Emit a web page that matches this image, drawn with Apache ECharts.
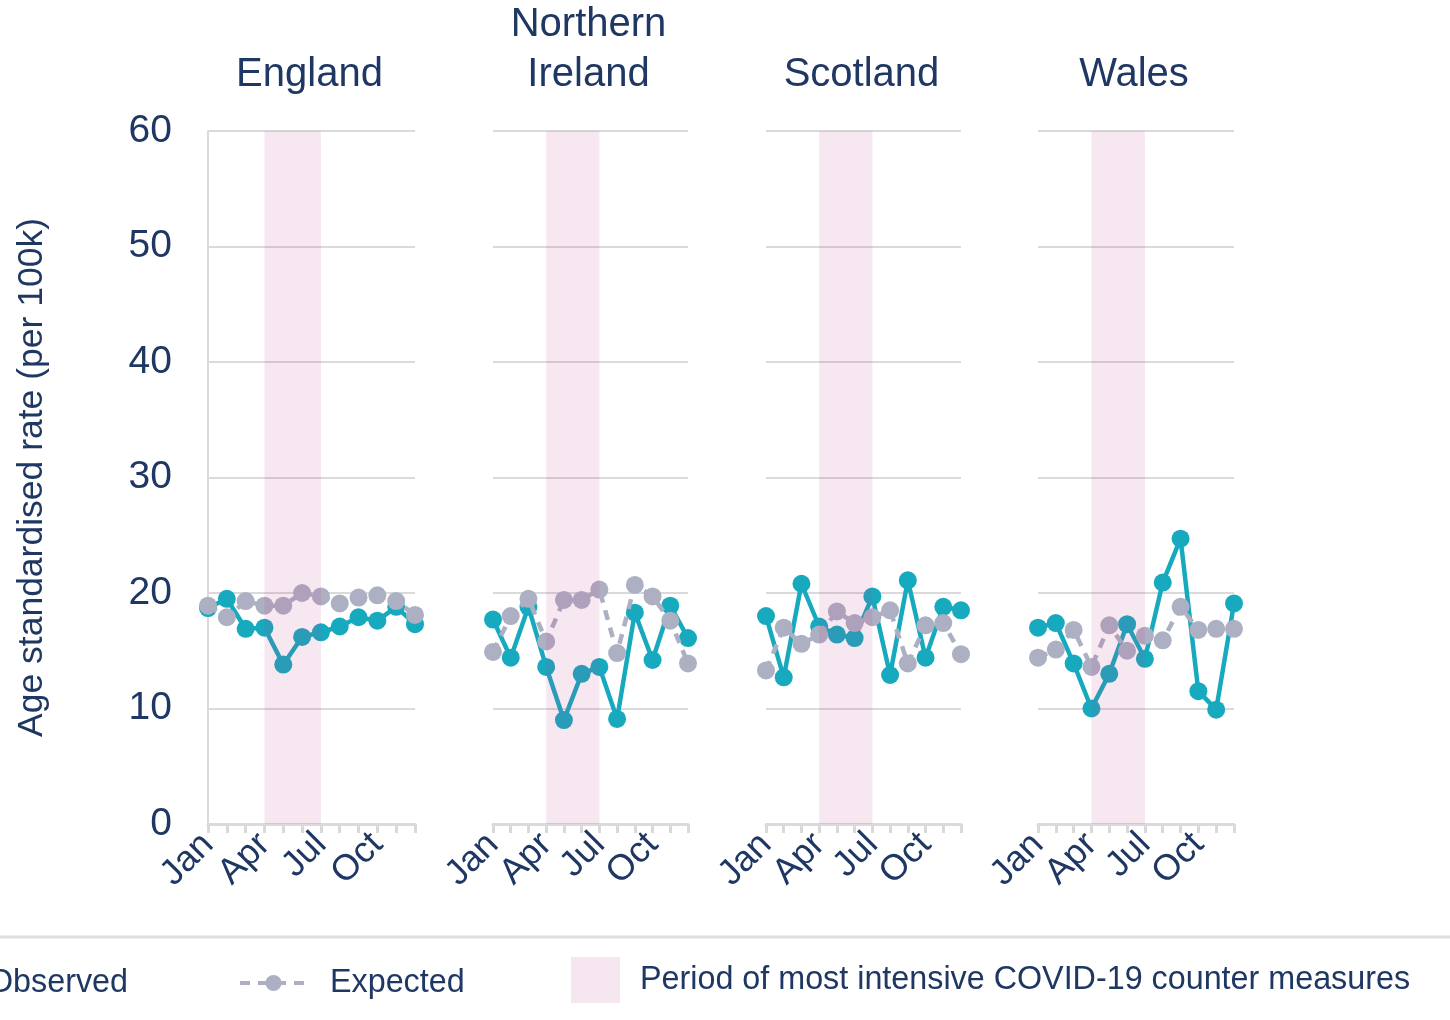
<!DOCTYPE html>
<html>
<head>
<meta charset="utf-8">
<script src="https://cdn.jsdelivr.net/npm/echarts@6/dist/echarts.min.js"></script>
<style>
  html, body { margin: 0; padding: 0; background: #fff; }
  #main { width: 1450px; height: 1020px; }
</style>
</head>
<body>
<div id="main"></div>
<script>
// 数据
var months = ['Jan', 'Feb', 'Mar', 'Apr', 'May', 'Jun', 'Jul', 'Aug', 'Sep', 'Oct', 'Nov', 'Dec'];
var nations = ['England', 'Northern\nIreland', 'Scotland', 'Wales'];
var englandObserved = [18.7, 19.5, 16.9, 17.0, 13.8, 16.2, 16.6, 17.1, 17.9, 17.6, 18.8, 17.3];
var englandExpected = [18.9, 17.9, 19.3, 18.9, 18.9, 20.0, 19.7, 19.1, 19.6, 19.8, 19.3, 18.1];
var niObserved = [17.7, 14.4, 18.8, 13.6, 9.0, 13.0, 13.6, 9.1, 18.3, 14.2, 18.9, 16.1];
var niExpected = [14.9, 18.0, 19.5, 15.8, 19.4, 19.4, 20.3, 14.8, 20.7, 19.7, 17.6, 13.9];
var scotlandObserved = [18.0, 12.7, 20.8, 17.1, 16.4, 16.1, 19.7, 12.9, 21.1, 14.4, 18.8, 18.5];
var scotlandExpected = [13.3, 17.0, 15.6, 16.4, 18.4, 17.4, 17.9, 18.5, 13.9, 17.2, 17.4, 14.7];
var walesObserved = [17.0, 17.4, 13.9, 10.0, 13.0, 17.3, 14.3, 20.9, 24.7, 11.5, 9.9, 19.1];
var walesExpected = [14.4, 15.1, 16.8, 13.6, 17.2, 15.0, 16.3, 15.9, 18.8, 16.8, 16.9, 16.9];
var observedSets = [englandObserved, niObserved, scotlandObserved, walesObserved];
var expectedSets = [englandExpected, niExpected, scotlandExpected, walesExpected];
var shadeFrom = 'Apr', shadeTo = 'Jul';
var yTicks = [0, 60, 10]; // min, max, interval
var periodName = 'Period of most intensive COVID-19 counter measures';

var chartDom = document.getElementById('main');
var myChart = echarts.init(chartDom, null, { renderer: 'canvas' });

// 颜色
var textColor = '#1f3763';
var teal = '#17aabf';
var grey = '#adb0c2';
var pink = '#f5e6f0';
var lineGrey = '#dadada';
var font = '"Liberation Sans", Arial, sans-serif';

// 每个面板的位置
var panels = [
    { left: 208, width: 207 },
    { left: 493, width: 195 },
    { left: 766, width: 195 },
    { left: 1038, width: 196 }
];

var grids = [], xAxes = [], yAxes = [], series = [], graphics = [];

panels.forEach(function (p, i) {
    grids.push({ left: p.left, width: p.width, top: 131, bottom: 196, containLabel: false });
    xAxes.push({
        type: 'category',
        gridIndex: i,
        data: months,
        boundaryGap: false,
        axisLine: { lineStyle: { color: lineGrey, width: 3 } },
        axisTick: { show: true, length: 9, interval: 0, lineStyle: { color: lineGrey, width: 3 } },
        axisLabel: {
            interval: 2,
            rotate: 45,
            margin: 15,
            color: textColor,
            fontSize: 36,
            fontFamily: font
        },
        splitLine: { show: false }
    });
    yAxes.push({
        type: 'value',
        gridIndex: i,
        min: yTicks[0],
        max: yTicks[1],
        interval: yTicks[2],
        name: i === 0 ? 'Age standardised rate (per 100k)' : '',
        nameLocation: 'middle',
        nameGap: 158,
        nameTextStyle: { color: textColor, fontSize: 35.5, fontFamily: font },
        axisLine: { show: i === 0, lineStyle: { color: lineGrey, width: 2 } },
        axisTick: { show: false },
        axisLabel: {
            show: i === 0,
            color: textColor,
            fontSize: 39,
            fontFamily: font,
            margin: 36
        },
        splitLine: { show: true, lineStyle: { color: lineGrey, width: 2 } }
    });

    // 观测值 + 阴影区
    series.push({
        name: 'Observed',
        type: 'line',
        xAxisIndex: i,
        yAxisIndex: i,
        data: observedSets[i],
        symbol: 'circle',
        symbolSize: 18,
        showAllSymbol: true,
        lineStyle: { color: teal, width: 4.5 },
        itemStyle: { color: teal },
        z: 2,
        markArea: {
            silent: true,
            z: 10,
            itemStyle: { color: 'rgba(190,60,140,0.12)' },
            data: [[{ xAxis: shadeFrom }, { xAxis: shadeTo }]]
        }
    });
    // 期望值
    series.push({
        name: 'Expected',
        type: 'line',
        xAxisIndex: i,
        yAxisIndex: i,
        data: expectedSets[i],
        symbol: 'circle',
        symbolSize: 18,
        showAllSymbol: true,
        lineStyle: { color: grey, width: 4.5, type: [10, 8] },
        itemStyle: { color: grey },
        z: 3
    });

    // 标题
    var lines = nations[i].split('\n').length;
    graphics.push({
        type: 'text',
        x: p.left + p.width / 2 - 2,
        y: 75 - (lines - 1) * 25,
        style: {
            text: nations[i],
            fill: textColor,
            font: '40px ' + font,
            lineHeight: 50,
            textAlign: 'center',
            textVerticalAlign: 'middle'
        }
    });
});

// 图例用的空系列
series.push({
    name: periodName,
    type: 'line',
    xAxisIndex: 0,
    yAxisIndex: 0,
    data: [],
    itemStyle: { color: pink }
});

// 分隔线
graphics.push({
    type: 'line',
    shape: { x1: 0, y1: 937, x2: 1450, y2: 937 },
    style: { stroke: '#dedede', lineWidth: 3 }
});

var legendText = { color: textColor, fontSize: 32.3, fontFamily: font, lineHeight: 46, padding: [0, 0, 0, 18] };

option = {
    animation: false,
    backgroundColor: '#fff',
    grid: grids,
    xAxis: xAxes,
    yAxis: yAxes,
    series: series,
    graphic: graphics,
    legend: [
        {
            data: ['Observed'],
            left: -104, top: 960, padding: 0,
            itemWidth: 67, itemHeight: 20,
            lineStyle: { width: 4 },
            textStyle: legendText
        },
        {
            data: ['Expected'],
            left: 238, top: 960, padding: 0,
            itemWidth: 67, itemHeight: 20,
            lineStyle: { width: 4 },
            textStyle: legendText
        },
        {
            data: [{ name: periodName, icon: 'rect' }],
            left: 571, top: 954, padding: 0,
            itemWidth: 49, itemHeight: 46,
            textStyle: { color: textColor, fontSize: 32.3, fontFamily: font, lineHeight: 52, padding: [0, 0, 0, 15] }
        }
    ]
};
myChart.setOption(option);
</script>
</body>
</html>
